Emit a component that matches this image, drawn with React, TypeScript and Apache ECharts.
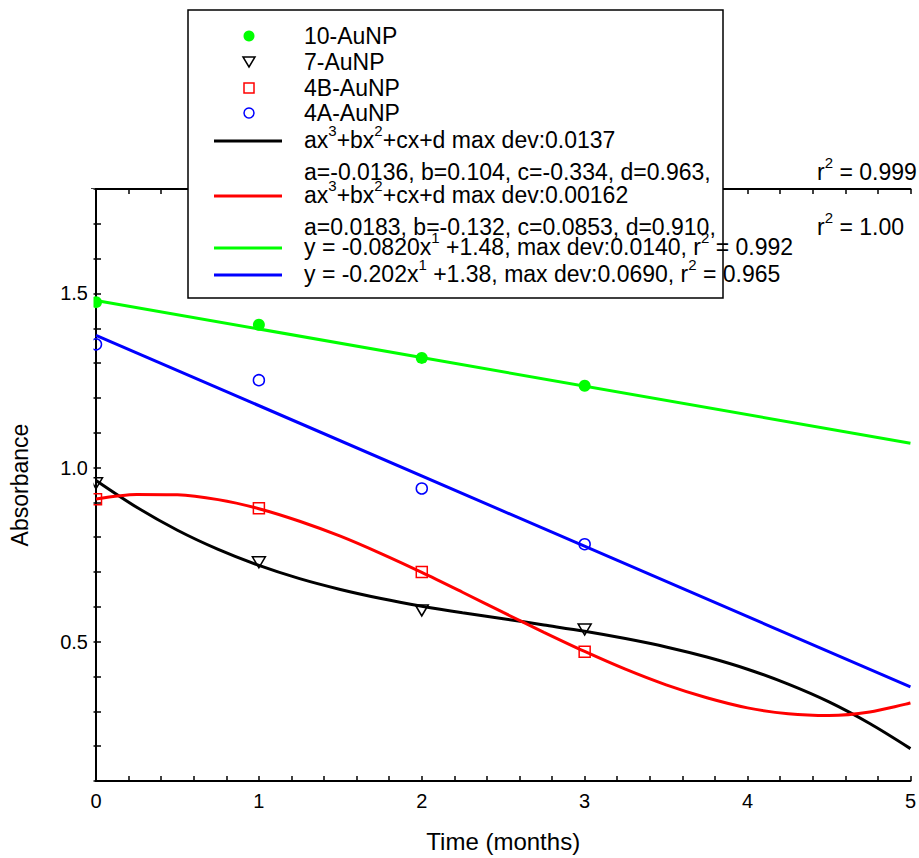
import React, { useEffect, useRef } from "react";
import * as echarts from "echarts";

// ---- data ----
const timeMonths = [0, 1, 2, 3];
const au10 = [1.475, 1.41, 1.315, 1.235];
const au7 = [0.955, 0.728, 0.59, 0.535];
const au4B = [0.909, 0.883, 0.7, 0.471];
const au4A = [1.354, 1.251, 0.94, 0.78];

// fitted curves
const fitX = [0, 0.25, 0.5, 0.75, 1, 1.25, 1.5, 1.75, 2, 2.25, 2.5, 2.75, 3, 3.25, 3.5, 3.75, 4, 4.25, 4.5, 4.75, 5];
const fit7 = [
  0.963, 0.886, 0.82, 0.765, 0.719, 0.681, 0.65, 0.624, 0.602, 0.583, 0.566, 0.548, 0.53, 0.509, 0.485, 0.456,
  0.421, 0.378, 0.327, 0.265, 0.193,
];
const fit4B = [
  0.91, 0.923, 0.922, 0.908, 0.882, 0.846, 0.803, 0.753, 0.699, 0.642, 0.584, 0.527, 0.472, 0.421, 0.376, 0.339,
  0.31, 0.293, 0.288, 0.298, 0.324,
];
const fitLineX = [0, 5];
const fit10 = [1.48, 1.07];
const fit4A = [1.38, 0.37];

const xTickLabels = ["0", "1", "2", "3", "4", "5"];
const yTickLabels = ["0.5", "1.0", "1.5"];

const markerLabels = ["10-AuNP", "7-AuNP", "4B-AuNP", "4A-AuNP"];
const fitLabels = [
  "{n|ax}{sup|3}{n|+bx}{sup|2}{n|+cx+d max dev:0.0137}",
  "{n|a=-0.0136, b=0.104, c=-0.334, d=0.963,}{tab|}{n|r}{sup|2}{n| = 0.999}",
  "{n|ax}{sup|3}{n|+bx}{sup|2}{n|+cx+d max dev:0.00162}",
  "{n|a=0.0183, b=-0.132, c=0.0853, d=0.910,}{tab|}{n|r}{sup|2}{n| = 1.00}",
  "{n|y = -0.0820x}{sup|1}{n| +1.48, max dev:0.0140, r}{sup|2}{n| = 0.992}",
  "{n|y = -0.202x}{sup|1}{n| +1.38, max dev:0.0690, r}{sup|2}{n| = 0.965}",
];

const GREEN = "#00ff00";
const RED = "#ff0000";
const BLUE = "#0000ff";
const BLACK = "#000000";
const FONT = "'Liberation Sans', Arial, Helvetica, sans-serif";

const pairs = (xs: number[], ys: number[]) => xs.map((x, i) => [x, ys[i]]);

let measureCtx: CanvasRenderingContext2D | null = null;
function measure(text: string, size: number): number {
  if (!measureCtx) {
    const c = document.createElement("canvas");
    measureCtx = c.getContext("2d");
  }
  if (!measureCtx) return text.length * size * 0.55;
  measureCtx.font = `${size}px ${FONT}`;
  return measureCtx.measureText(text).width;
}

export default function App() {
  const ref = useRef<HTMLDivElement>(null);

  useEffect(() => {
    if (!ref.current) return;
    const chart = echarts.init(ref.current, null, { renderer: "svg" });

    const tickStyle = { color: BLACK, width: 1.5 };
    const axisLine = { show: true, lineStyle: { color: BLACK, width: 2 } };

    const MAIN = 23;
    const SUP = 15;
    const SUP_RISE = 10;
    const TAB_X = 817;
    const textX = 304;
    const markerX = 249;
    const lineX1 = 214;
    const lineX2 = 282;
    const markerY = [36, 62, 88, 113];
    const fitY = [140, 172, 195, 227, 247, 274];
    const fitLineColors: (string | null)[] = [BLACK, null, RED, null, GREEN, BLUE];

    const legendChildren: any[] = [
      {
        type: "rect",
        z: 100,
        shape: { x: 188, y: 10, width: 535, height: 288 },
        style: { fill: "#ffffff", stroke: BLACK, lineWidth: 1.5 },
      },
      { type: "circle", z: 101, shape: { cx: markerX, cy: markerY[0], r: 5.5 }, style: { fill: GREEN } },
      {
        type: "polygon",
        z: 101,
        shape: { points: [[markerX - 6, markerY[1] - 5], [markerX + 6, markerY[1] - 5], [markerX, markerY[1] + 5]] },
        style: { fill: "#ffffff", stroke: BLACK, lineWidth: 1.5 },
      },
      {
        type: "rect",
        z: 101,
        shape: { x: markerX - 5, y: markerY[2] - 5, width: 10, height: 10 },
        style: { fill: "#ffffff", stroke: RED, lineWidth: 1.5 },
      },
      {
        type: "circle",
        z: 101,
        shape: { cx: markerX, cy: markerY[3], r: 5 },
        style: { fill: "#ffffff", stroke: BLUE, lineWidth: 1.5 },
      },
    ];
    markerLabels.forEach((t, i) => {
      legendChildren.push({
        type: "text",
        z: 102,
        x: textX,
        y: markerY[i],
        style: { text: t, fontSize: MAIN, fontFamily: FONT, fill: BLACK, verticalAlign: "middle", align: "left" },
      });
    });

    fitLabels.forEach((label, i) => {
      const c = fitLineColors[i];
      if (c) {
        legendChildren.push({
          type: "line",
          z: 101,
          shape: { x1: lineX1, y1: fitY[i] + 1, x2: lineX2, y2: fitY[i] + 1 },
          style: { stroke: c, lineWidth: 3 },
        });
      }
      const re = /\{(\w+)\|([^}]*)\}/g;
      let m: RegExpExecArray | null;
      let x = textX;
      while ((m = re.exec(label)) !== null) {
        const kind = m[1];
        const txt = m[2];
        if (kind === "tab") {
          x = Math.max(x + 8, TAB_X);
          continue;
        }
        const isSup = kind === "sup";
        const size = isSup ? SUP : MAIN;
        legendChildren.push({
          type: "text",
          z: 102,
          x,
          y: isSup ? fitY[i] - SUP_RISE : fitY[i],
          style: {
            text: txt,
            fontSize: size,
            fontFamily: FONT,
            fill: BLACK,
            verticalAlign: "middle",
            align: "left",
          },
        });
        x += measure(txt, size);
      }
    });

    const option: any = {
      animation: false,
      backgroundColor: "#ffffff",
      grid: { left: 95, right: 7, top: 189, bottom: 76, show: false, containLabel: false },
      xAxis: [
        {
          type: "value",
          position: "bottom",
          min: 0,
          max: 5,
          interval: 1,
          name: "Time (months)",
          nameLocation: "middle",
          nameGap: 48,
          nameTextStyle: { fontSize: 24, fontFamily: FONT, color: BLACK },
          axisLine,
          axisTick: { show: true, inside: true, length: 5, lineStyle: tickStyle },
          minorTick: { show: true, splitNumber: 5, length: 5, lineStyle: tickStyle },
          splitLine: { show: false },
          minorSplitLine: { show: false },
          axisLabel: {
            show: true,
            margin: 10,
            fontSize: 20,
            fontFamily: FONT,
            color: BLACK,
            formatter: (v: number) => {
              const s = String(Math.round(v));
              return xTickLabels.includes(s) && Math.abs(v - Math.round(v)) < 1e-6 ? s : "";
            },
          },
        },
        {
          type: "value",
          position: "top",
          min: 0,
          max: 5,
          interval: 1,
          axisLine,
          axisTick: { show: true, inside: true, length: 5, lineStyle: tickStyle },
          minorTick: { show: true, splitNumber: 5, length: 5, lineStyle: tickStyle },
          splitLine: { show: false },
          axisLabel: { show: false },
        },
      ],
      yAxis: [
        {
          type: "value",
          position: "left",
          min: 0.1,
          max: 1.8,
          interval: 0.1,
          name: "Absorbance",
          nameLocation: "middle",
          nameGap: 65,
          nameTextStyle: { fontSize: 23, fontFamily: FONT, color: BLACK },
          axisLine,
          axisTick: { show: true, inside: true, length: 5, lineStyle: tickStyle },
          splitLine: { show: false },
          axisLabel: {
            show: true,
            margin: 8,
            fontSize: 20,
            fontFamily: FONT,
            color: BLACK,
            formatter: (v: number) => {
              const s = (Math.round(v * 10) / 10).toFixed(1);
              return yTickLabels.includes(s) ? s : "";
            },
          },
        },
        {
          type: "value",
          position: "right",
          min: 0.1,
          max: 1.8,
          interval: 0.1,
          axisLine,
          axisTick: { show: true, inside: true, length: 5, lineStyle: tickStyle },
          splitLine: { show: false },
          axisLabel: { show: false },
        },
      ],
      series: [
        {
          name: "fit 7",
          type: "line",
          data: pairs(fitX, fit7),
          smooth: 0.3,
          showSymbol: false,
          clip: true,
          z: 3,
          lineStyle: { color: BLACK, width: 3 },
        },
        {
          name: "fit 4B",
          type: "line",
          data: pairs(fitX, fit4B),
          smooth: 0.3,
          showSymbol: false,
          clip: true,
          z: 3,
          lineStyle: { color: RED, width: 3 },
        },
        {
          name: "fit 10",
          type: "line",
          data: pairs(fitLineX, fit10),
          showSymbol: false,
          clip: true,
          z: 3,
          lineStyle: { color: GREEN, width: 3 },
        },
        {
          name: "fit 4A",
          type: "line",
          data: pairs(fitLineX, fit4A),
          showSymbol: false,
          clip: true,
          z: 3,
          lineStyle: { color: BLUE, width: 3 },
        },
        {
          name: "10-AuNP",
          type: "scatter",
          data: pairs(timeMonths, au10),
          symbol: "circle",
          symbolSize: 12,
          z: 5,
          itemStyle: { color: GREEN, opacity: 1 },
        },
        {
          name: "7-AuNP",
          type: "scatter",
          data: pairs(timeMonths, au7),
          symbol: "triangle",
          symbolRotate: 180,
          symbolSize: [13, 11],
          z: 5,
          itemStyle: { color: "rgba(255,255,255,0)", borderColor: BLACK, borderWidth: 1.5, opacity: 1 },
        },
        {
          name: "4B-AuNP",
          type: "scatter",
          data: pairs(timeMonths, au4B),
          symbol: "rect",
          symbolSize: 11,
          z: 5,
          itemStyle: { color: "rgba(255,255,255,0)", borderColor: RED, borderWidth: 1.5, opacity: 1 },
        },
        {
          name: "4A-AuNP",
          type: "scatter",
          data: pairs(timeMonths, au4A),
          symbol: "circle",
          symbolSize: 11,
          z: 5,
          itemStyle: { color: "rgba(255,255,255,0)", borderColor: BLUE, borderWidth: 1.5, opacity: 1 },
        },
      ],
      graphic: [
        {
          type: "rect",
          z: 50,
          shape: { x: 87.5, y: 189, width: 6, height: 593 },
          style: { fill: "#ffffff" },
        },
        ...legendChildren,
      ],
    };

    chart.setOption(option);
    return () => chart.dispose();
  }, []);

  return (
    <div
      ref={ref}
      style={{ position: "fixed", left: 0, top: 0, width: 919, height: 858, background: "#fff" }}
    />
  );
}
